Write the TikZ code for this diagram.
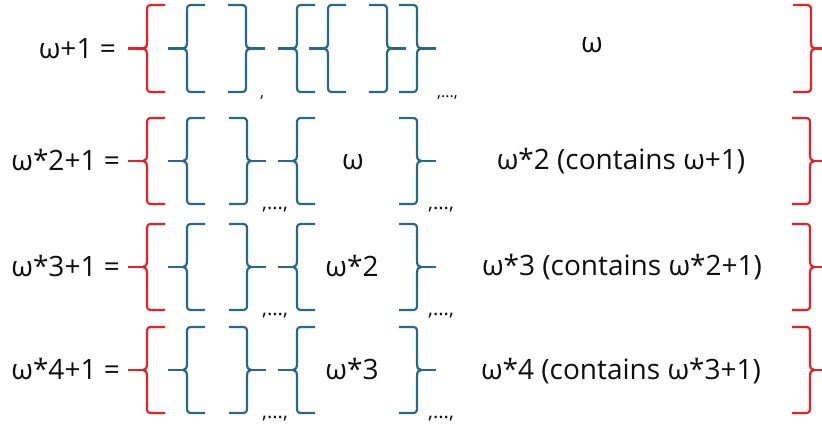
\documentclass[tikz,border=0pt]{standalone}
\usepackage{fontspec}
\setmainfont{Open Sans}
\definecolor{bred}{RGB}{236,30,38}
\definecolor{bblue}{RGB}{40,104,138}
\definecolor{txt}{RGB}{15,15,15}
\newcommand{\brL}[4]{%
  \pgfmathsetmacro{\bm}{(#3+#4)/2}%
  \draw[#1] ({#2+18},#3) -- ({#2+5},#3) .. controls ({#2+1},#3) and (#2,{#3+1}) .. (#2,{#3+5})
    -- (#2,{\bm-7}) .. controls (#2,{\bm-2}) and ({#2-1},\bm) .. ({#2-4},\bm)
    .. controls ({#2-1},\bm) and (#2,{\bm+2}) .. (#2,{\bm+7})
    -- (#2,{#4-5}) .. controls (#2,{#4-1}) and ({#2+1},#4) .. ({#2+5},#4) -- ({#2+18},#4);
  \draw[#1] ({#2-4},\bm) -- ({#2-19},\bm);}
\newcommand{\brR}[4]{%
  \pgfmathsetmacro{\bm}{(#3+#4)/2}%
  \draw[#1] ({#2-18},#3) -- ({#2-5},#3) .. controls ({#2-1},#3) and (#2,{#3+1}) .. (#2,{#3+5})
    -- (#2,{\bm-7}) .. controls (#2,{\bm-2}) and ({#2+1},\bm) .. ({#2+4},\bm)
    .. controls ({#2+1},\bm) and (#2,{\bm+2}) .. (#2,{\bm+7})
    -- (#2,{#4-5}) .. controls (#2,{#4-1}) and ({#2-1},#4) .. ({#2-5},#4) -- ({#2-18},#4);
  \draw[#1] ({#2+4},\bm) -- ({#2+19},\bm);}
\tikzset{
  redbr/.style={draw=bred, line width=2.2pt, line join=round},
  bluebr/.style={draw=bblue, line width=2.2pt, line join=round},
  lab/.style={inner sep=0pt, text=txt, font=\fontsize{28}{32}\selectfont},
  sep/.style={inner sep=0pt, text=txt, font=\fontsize{20}{24}\selectfont},
  sepsmall/.style={inner sep=0pt, text=txt, font=\fontsize{16}{18}\selectfont},
}
\begin{document}
\begin{tikzpicture}[x=1pt,y=-1pt]
\clip (0,0) rectangle (822,427);
\fill[white] (0,0) rectangle (822,427);
% ---- row 1 ----
\node[lab, anchor=base east] (lbl1) at (116,59) {ω+1 =};
\brL{redbr}{147}{5}{92}
\brL{bluebr}{187}{5}{92}
\brR{bluebr}{246}{5}{92}
\brL{bluebr}{297}{5}{92}
\brL{bluebr}{328}{5}{92}
\brR{bluebr}{387}{5}{92}
\brR{bluebr}{417}{5}{92}
\brR{redbr}{811}{5}{92}
\node[sepsmall, anchor=base west] (c1a) at (260,98) {,};
\node[sepsmall, anchor=base west] (c1b) at (437,98) {,...,};
\node[lab, anchor=base] (mid1) at (592,53) {ω};
% ---- row 2 ----
\node[lab, anchor=base east] (lbl2) at (120,171) {ω*2+1 =};
\brL{redbr}{147}{118}{204}
\brL{bluebr}{187}{118}{204}
\brR{bluebr}{247}{118}{204}
\brL{bluebr}{297}{118}{204}
\brR{bluebr}{417}{118}{204}
\brR{redbr}{810}{118}{204}
\node[sep, anchor=base west] (c2a) at (262,210) {,...,};
\node[sep, anchor=base west] (c2b) at (428,210) {,...,};
\node[lab, anchor=base] (mid2) at (353,170) {ω};
\node[lab, anchor=base] (rt2) at (621,170) {ω*2 (contains ω+1)};
% ---- row 3 ----
\node[lab, anchor=base east] (lbl3) at (120,277) {ω*3+1 =};
\brL{redbr}{147}{224}{310}
\brL{bluebr}{187}{224}{310}
\brR{bluebr}{247}{224}{310}
\brL{bluebr}{297}{224}{310}
\brR{bluebr}{417}{224}{310}
\brR{redbr}{810}{224}{310}
\node[sep, anchor=base west] (c3a) at (262,316) {,...,};
\node[sep, anchor=base west] (c3b) at (428,316) {,...,};
\node[lab, anchor=base] (mid3) at (352,277) {ω*2};
\node[lab, anchor=base] (rt3) at (622,276) {ω*3 (contains ω*2+1)};
% ---- row 4 ----
\node[lab, anchor=base east] (lbl4) at (120,380) {ω*4+1 =};
\brL{redbr}{147}{327}{413}
\brL{bluebr}{187}{327}{413}
\brR{bluebr}{247}{327}{413}
\brL{bluebr}{297}{327}{413}
\brR{bluebr}{417}{327}{413}
\brR{redbr}{810}{327}{413}
\node[sep, anchor=base west] (c4a) at (262,419) {,...,};
\node[sep, anchor=base west] (c4b) at (428,419) {,...,};
\node[lab, anchor=base] (mid4) at (352,380) {ω*3};
\node[lab, anchor=base] (rt4) at (621,380) {ω*4 (contains ω*3+1)};
\end{tikzpicture}
\end{document}
